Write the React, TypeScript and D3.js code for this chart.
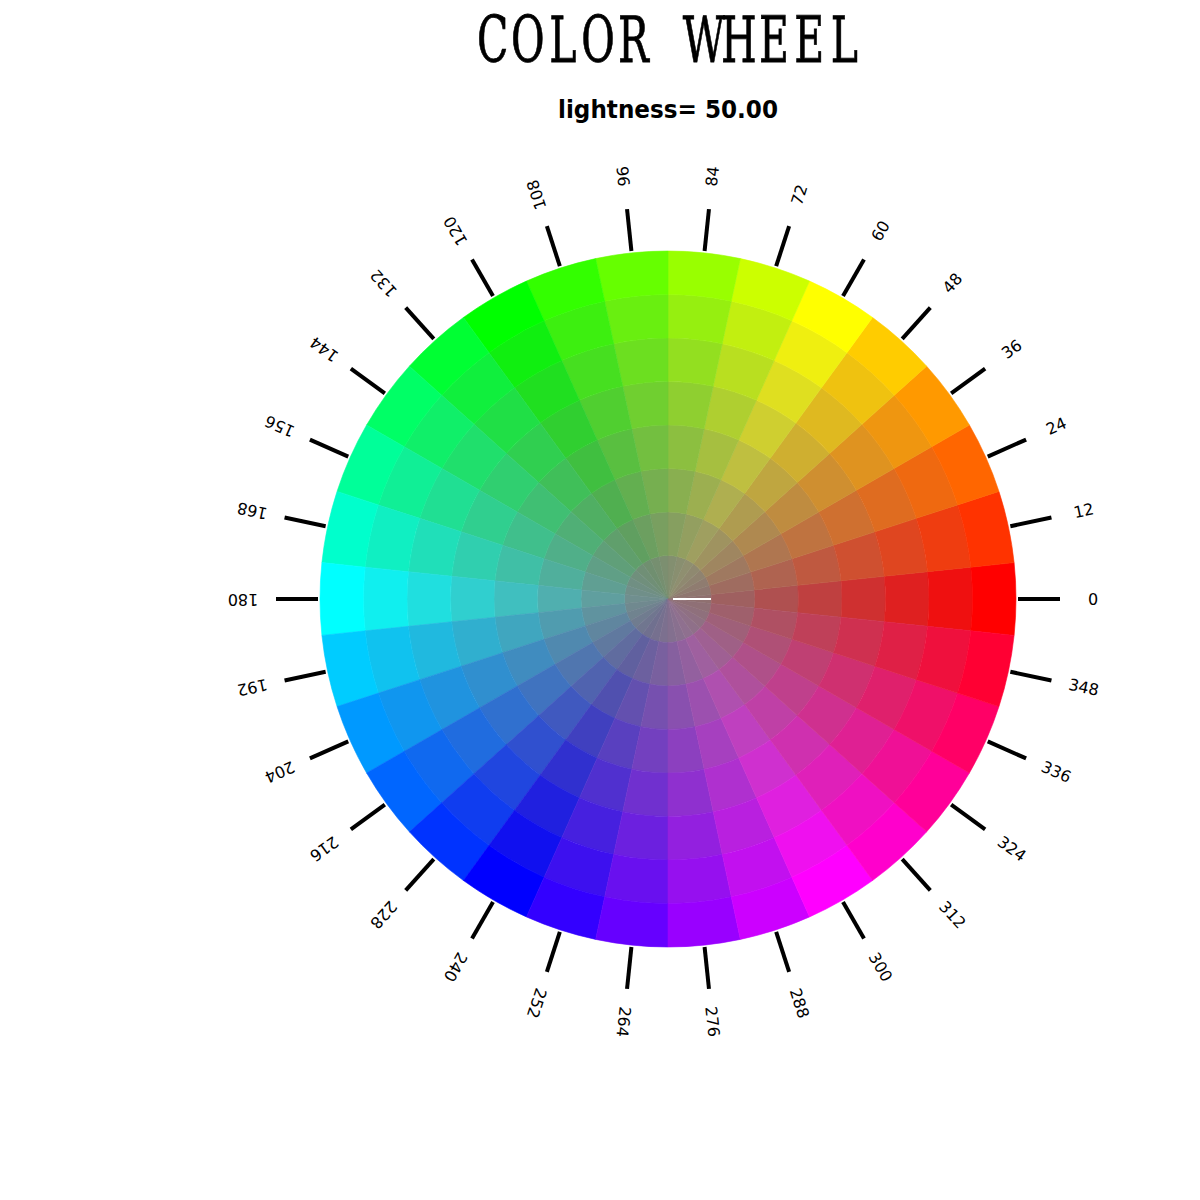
import React from "react";
import * as d3 from "d3";

// hue of each wedge (degrees), also the tick labels
const HUES = [0, 12, 24, 36, 48, 60, 72, 84, 96, 108, 120, 132, 144, 156, 168, 180,
  192, 204, 216, 228, 240, 252, 264, 276, 288, 300, 312, 324, 336, 348];
// saturation of each ring, from the centre out
const SATURATIONS = [0.125, 0.25, 0.375, 0.5, 0.625, 0.75, 0.875, 1.0];
const LIGHTNESS = 0.5;
const TITLE = "COLOR WHEEL";
const SUBTITLE = "lightness= 50.00";

const W = 1200;
const H = 1200;
const cx = 668;
const cy = 599;
const outerR = 348;

export default function App() {
  // hue -> d3 arc angle (d3 measures clockwise from 12 o'clock)
  const hueStep = 360 / HUES.length;
  const toRad = (deg: number) => (deg * Math.PI) / 180;
  const rScale = d3.scaleLinear().domain([0, SATURATIONS.length]).range([0, outerR]);
  const arc = d3.arc<any>();

  const cells: any[] = [];
  HUES.forEach((h) => {
    SATURATIONS.forEach((s, i) => {
      cells.push({
        h,
        s,
        d: arc({
          innerRadius: rScale(i),
          outerRadius: rScale(i + 1),
          startAngle: toRad(90 - h - hueStep / 2),
          endAngle: toRad(90 - h + hueStep / 2),
        }),
        color: d3.hsl(h, s, LIGHTNESS).formatHex(),
      });
    });
  });

  const tickIn = 350;
  const tickOut = 392;
  const labelR = 425;

  // title drawn as fixed-pitch, condensed serif letters
  const titleLeft = 475;
  const titleRight = 862;
  const pitch = (titleRight - titleLeft) / TITLE.length;
  const sx = 0.64;
  const titleX = TITLE.split("").map((_, i) => (titleLeft + pitch * (i + 0.5)) / sx);

  return (
    <div style={{ position: "absolute", left: 0, top: 0 }}>
      <svg width={W} height={H} style={{ display: "block", background: "#fff" }}>
        <g transform={`translate(0,62) scale(${sx},1)`}>
          <text
            x={titleX.join(" ")}
            y={0}
            textAnchor="middle"
            fontFamily="'DejaVu Serif', 'Liberation Serif', serif"
            fontSize={64}
            stroke="#000"
            strokeWidth={0.8}
            fill="#000"
          >
            {TITLE}
          </text>
        </g>
        <text
          x={cx}
          y={118}
          textAnchor="middle"
          fontFamily="'DejaVu Sans', sans-serif"
          fontWeight="bold"
          fontSize={25}
          textLength={220}
          lengthAdjust="spacingAndGlyphs"
          fill="#000"
        >
          {SUBTITLE}
        </text>
        <g transform={`translate(${cx},${cy})`}>
          {cells.map((c, i) => (
            <path key={i} d={c.d} fill={c.color} stroke={c.color} strokeWidth={0.6} />
          ))}
          <line x1={5} y1={0} x2={43} y2={0} stroke="#fff" strokeWidth={2} />
          {HUES.map((h) => {
            const a = toRad(h);
            const ux = Math.cos(a);
            const uy = -Math.sin(a);
            return (
              <g key={h}>
                <line
                  x1={ux * tickIn}
                  y1={uy * tickIn}
                  x2={ux * tickOut}
                  y2={uy * tickOut}
                  stroke="#000"
                  strokeWidth={4}
                />
                <text
                  transform={`translate(${ux * labelR},${uy * labelR}) rotate(${-h})`}
                  textAnchor="middle"
                  dominantBaseline="central"
                  fontFamily="'DejaVu Sans', sans-serif"
                  fontSize={16}
                  fill="#000"
                >
                  {h}
                </text>
              </g>
            );
          })}
        </g>
      </svg>
    </div>
  );
}
